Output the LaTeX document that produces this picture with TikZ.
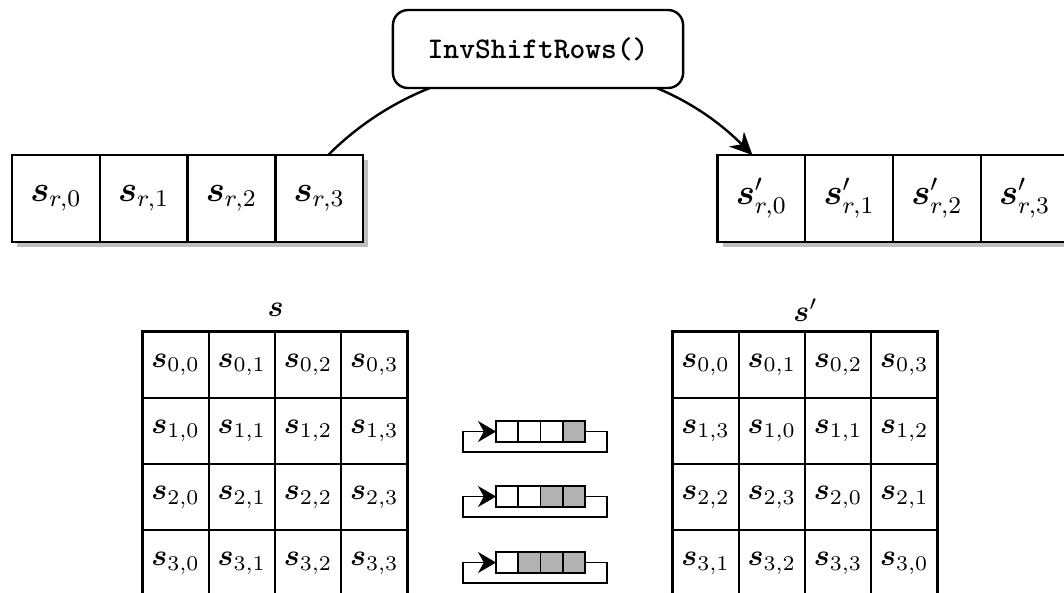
\documentclass[tikz,border=0pt]{standalone}
\usepackage{amsmath}
\usepackage{fontspec}
\newfontfamily\codefont{lmmonolt10-bold}[Extension=.otf]
\usepackage{tikz}
\usetikzlibrary{arrows.meta,positioning,shadows}
\tikzstyle{rowcell}=[draw,thick,fill=white,minimum width=29.25pt,minimum height=29pt,inner sep=0pt,outer sep=0pt,font=\large,drop shadow={shadow xshift=1.7pt,shadow yshift=-1.7pt,fill=gray!50,opacity=1}]
\tikzstyle{mcell}=[draw,thick,minimum size=22.08pt,inner sep=0pt,outer sep=0pt]
\tikzstyle{icell}=[draw,semithick,minimum width=7.4pt,minimum height=7pt,inner sep=0pt,outer sep=0pt]
\tikzstyle{funcbox}=[draw,thick,fill=white,rounded corners=5pt,minimum width=96.7pt,minimum height=26pt,font=\codefont]
\newcommand{\bs}{\boldsymbol{s}}

\begin{document}
\begin{tikzpicture}[x=0.3333pt,y=-0.3333pt]
\useasboundingbox (0,0) rectangle (1064,592);
% one row, before and after
\node [rowcell] (l0) at (55.9,198.5) {$\bs_{r,0}$};
\node [rowcell,right=0pt of l0] (l1) {$\bs_{r,1}$};
\node [rowcell,right=0pt of l1] (l2) {$\bs_{r,2}$};
\node [rowcell,right=0pt of l2] (l3) {$\bs_{r,3}$};
\node [rowcell] (r0) at (761.4,198.5) {$\bs'_{r,0}$};
\node [rowcell,right=0pt of r0] (r1) {$\bs'_{r,1}$};
\node [rowcell,right=0pt of r1] (r2) {$\bs'_{r,2}$};
\node [rowcell,right=0pt of r2] (r3) {$\bs'_{r,3}$};
\draw [thick,-{Stealth[length=7.5pt,width=7pt]}] ([xshift=3pt]l3.north) to[bend left=45] ([xshift=-3pt]r0.north);
\node [funcbox] (inv) at (538,49) {InvShiftRows()};
% state matrices
\node (ls) at (275.5,310) {$\bs$};
\node (rs) at (805.5,310) {$\bs'$};
\foreach \r in {0,...,3}
  \foreach \c in {0,...,3} {
    \pgfmathtruncatemacro{\cc}{mod(\c-\r+4,4)}
    \node [mcell] (a-\r-\c) at (175.6+66.25*\c,364.6+66.25*\r) {$\bs_{\r,\c}$};
    \node [mcell] (b-\r-\c) at (705.6+66.25*\c,364.6+66.25*\r) {$\bs_{\r,\cc}$};
  }
% rotating registers
\foreach \k/\y in {1/431.5,2/496.5,3/562.5} {
  \foreach \j in {0,...,3} {
    \pgfmathtruncatemacro{\sh}{\j>=4-\k}
    \ifnum\sh=1
      \node [icell,fill=gray!60] (c\k-\j) at (507.1+22.25*\j,\y) {};
    \else
      \node [icell,fill=white] (c\k-\j) at (507.1+22.25*\j,\y) {};
    \fi
  }
  \draw [semithick,-{Stealth[length=6pt,width=7pt]}] (c\k-3.east) -- ++(22,0) -- ++(0,20.5) -| ([xshift=-11pt]c\k-0.west) -- (c\k-0.west);
}
\end{tikzpicture}
\end{document}
